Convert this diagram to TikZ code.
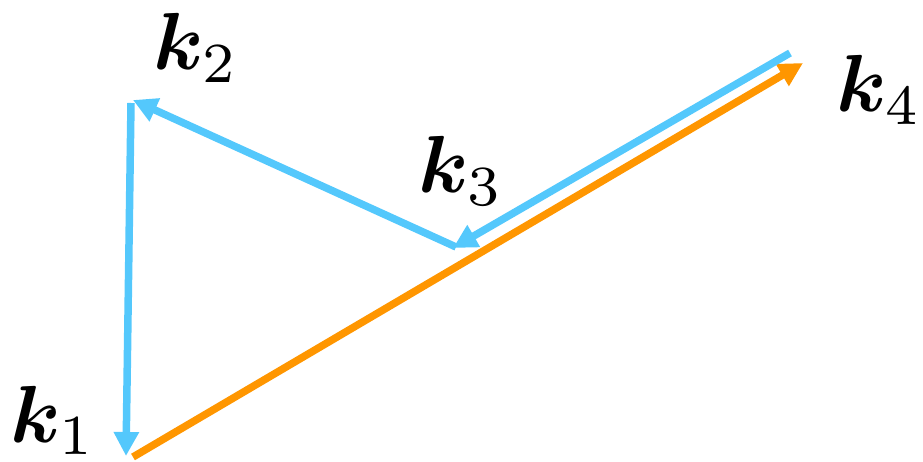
\documentclass[tikz,border=0pt]{standalone}
\usepackage{amsmath}
\usepackage{bm}
\usetikzlibrary{arrows.meta}
\definecolor{kblue}{RGB}{84,200,252}
\definecolor{korange}{RGB}{255,150,0}
\tikzset{
  vec/.style={line width=7.5pt, -{Triangle[length=24pt,width=24pt]}},
  bluevec/.style={vec, draw=kblue},
  orangevec/.style={vec, draw=korange},
  klabel/.style={anchor=base west, inner sep=0pt, scale=8.1}
}
\begin{document}
\begin{tikzpicture}[x=1pt,y=-1pt]
\useasboundingbox (0,0) rectangle (923,462);
% points
\coordinate (oS) at (133,457);
\coordinate (oE) at (803,63);
\coordinate (b0) at (790,53);
\coordinate (b1) at (453,248);
\coordinate (b1s) at (456,247);
\coordinate (b2) at (133,100);
\coordinate (b2s) at (131,103);
\coordinate (b3) at (126,456);
% labels
\node[klabel] (k1) at (9,442) {$\bm{k}_1$};
\node[klabel] (k2) at (152,70) {$\bm{k}_2$};
\node[klabel] (k3) at (417,193) {$\bm{k}_3$};
\node[klabel] (k4) at (835,112) {$\bm{k}_4$};
% vectors
\draw[orangevec] (oS) -- (oE);
\draw[bluevec] (b0) -- (b1);
\draw[bluevec] (b1s) -- (b2);
\draw[bluevec] (b2s) -- (b3);
\end{tikzpicture}
\end{document}
